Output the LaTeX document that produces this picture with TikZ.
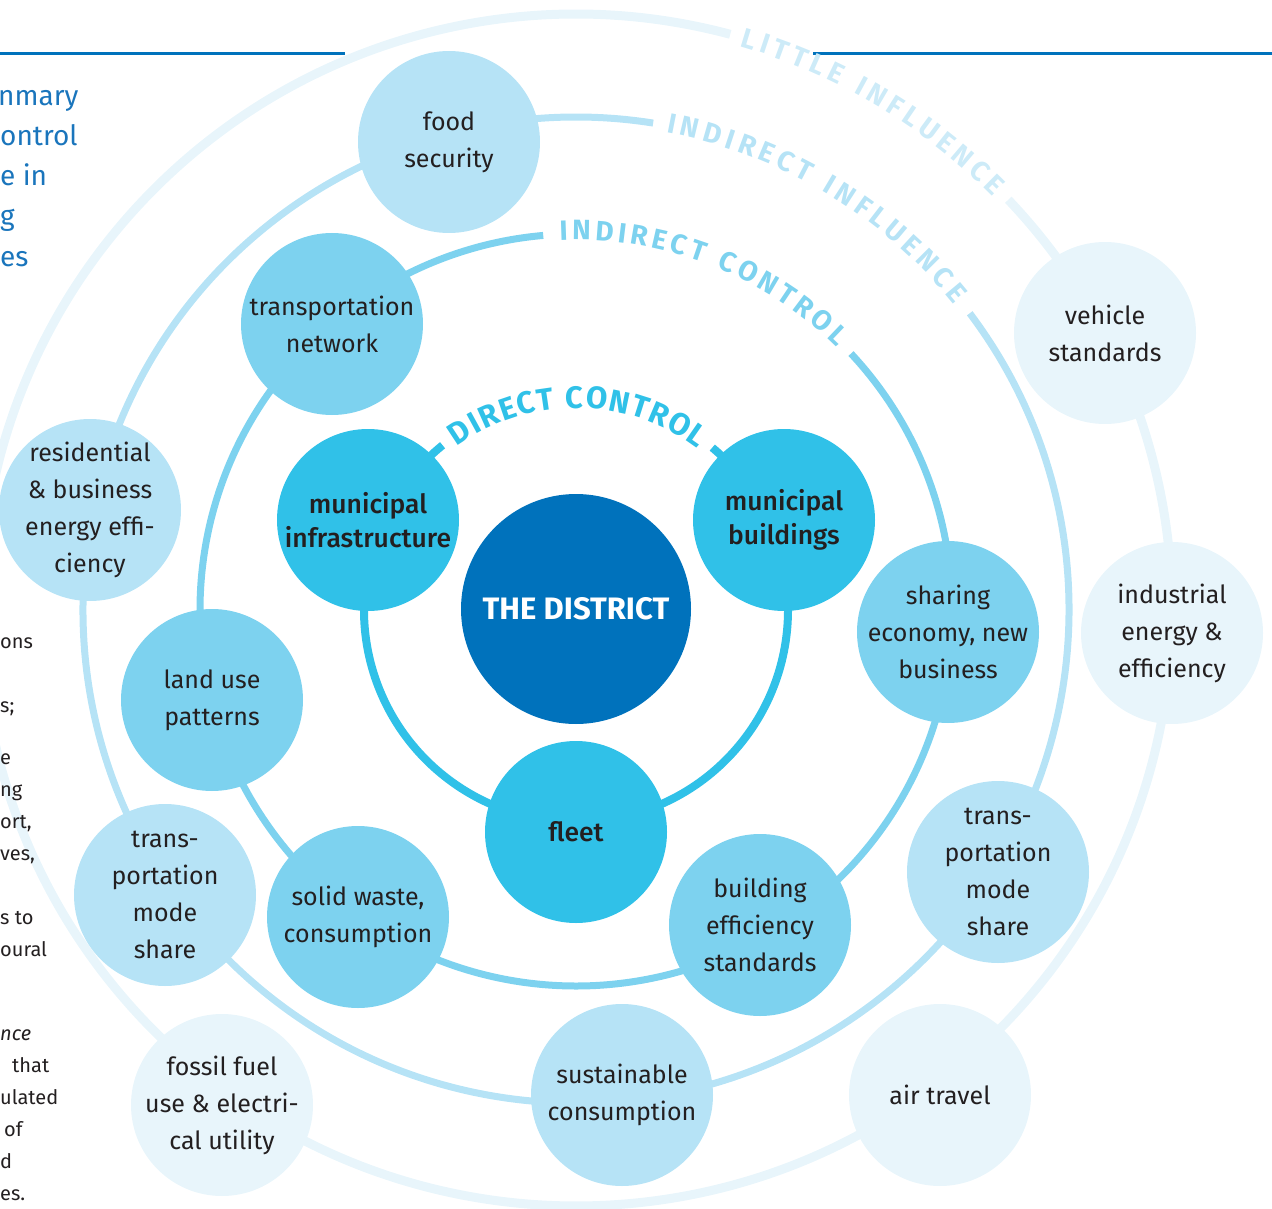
\documentclass[tikz,border=0pt]{standalone}
\usepackage{fontspec}
\IfFontExistsTF{Fira Sans Medium}
  {\setmainfont{Fira Sans}[BoldFont={Fira Sans Medium}]
   \newfontfamily\heavy{Fira Sans Bold}}
  {\setmainfont{Fira Sans}
   \newfontfamily\heavy{Fira Sans}[UprightFont={* Bold}]}
\usetikzlibrary{decorations.text}

\definecolor{district}{HTML}{0072BC}
\definecolor{dcol}{HTML}{30C1E8}
\definecolor{iccol}{HTML}{7DD2EF}
\definecolor{iicol}{HTML}{B6E3F6}
\definecolor{licol}{HTML}{E8F5FB}
\definecolor{lilabel}{HTML}{CDEBF8}
\definecolor{ink}{HTML}{231F20}
\definecolor{titleblue}{HTML}{1A75BC}

% bubble: a filled disc plus a separate label node on top of it
\newcommand\ringnode[4]{%
  \node[#1] (#2) at (#3) {};
  \node[#1 text] (#2-t) at (#2) {#4};}

\begin{document}
\begin{tikzpicture}[x=1pt,y=1pt,
  bubble/.style={circle, minimum size=182pt, inner sep=0pt},
  dc/.style={bubble, fill=dcol},
  ic/.style={bubble, fill=iccol},
  ii/.style={bubble, fill=iicol},
  li/.style={bubble, fill=licol},
  plain text/.style={inner sep=0pt, align=center, text=ink, font=\fontsize{25}{37}\selectfont},
  dc text/.style={inner sep=0pt, align=center, text=ink, font=\fontsize{26.5}{34}\selectfont\bfseries},
  ic text/.style={plain text},
  ii text/.style={plain text},
  li text/.style={plain text},
  ringlabel/.style={decorate, decoration={text along path, text align={fit to path}, raise=#1}},
  sidetitle/.style={anchor=base west, inner sep=0pt, text=titleblue, font=\fontsize{28}{40}\selectfont},
  sidebody/.style={anchor=base west, inner sep=0pt, text=ink, font=\fontsize{20}{32}\selectfont},
]
\useasboundingbox (0,0) rectangle (1272,-1209);
\clip (0,0) rectangle (1272,-1209);

\coordinate (C) at (576,-610);

% page rule
\coordinate (ruleA) at (0,-54);
\coordinate (ruleB) at (345,-54);
\coordinate (ruleC) at (813,-54);
\coordinate (ruleD) at (1272,-54);
\draw[district, line width=3] (ruleA) -- (ruleB);
\draw[district, line width=3] (ruleC) -- (ruleD);

% rings, each left open where its label sits
\draw[licol, line width=9] (C) ++(43.5:596) arc[start angle=43.5, end angle=-285, radius=596];
\draw[iicol, line width=7] (C) ++(37:493) arc[start angle=37, end angle=-279, radius=493];
\draw[iccol, line width=7] (C) ++(43:376) arc[start angle=43, end angle=-265, radius=376];
\draw[dcol, line width=8] (C) ++(50:212) arc[start angle=50, end angle=-231, radius=212];

% ring labels
\path[ringlabel=-10pt, decoration={text={|\fontsize{31}{31}\heavy\color{dcol}|DIRECT CONTROL}}]
  (C) ++(126:212) arc[start angle=126, end angle=53, radius=212];
\path[ringlabel=-9pt, decoration={text={|\fontsize{28}{28}\heavy\color{iccol}|INDIRECT CONTROL}}]
  (C) ++(92.5:379) arc[start angle=92.5, end angle=45.3, radius=379];
\path[ringlabel=-9pt, decoration={text={|\fontsize{28}{28}\heavy\color{iicol}|INDIRECT INFLUENCE}}]
  (C) ++(79.3:495) arc[start angle=79.3, end angle=39, radius=495];
\path[ringlabel=-9pt, decoration={text={|\fontsize{28}{28}\heavy\color{lilabel}|LITTLE INFLUENCE}}]
  (C) ++(73.8:596) arc[start angle=73.8, end angle=44.7, radius=596];

% centre
\node[circle, minimum size=230pt, inner sep=0pt, fill=district] (district) at (576,-609) {};
\node[inner sep=0pt, text=white, font=\fontsize{31}{34}\heavy] (district-t) at (district) {THE DISTRICT};

% direct control
\ringnode{dc}{minf}{368,-520}{municipal\\infrastructure}
\ringnode{dc}{mbld}{784,-520}{municipal\\buildings}
\ringnode{dc}{fleet}{576,-832}{fleet}

% indirect control
\ringnode{ic}{trnet}{332,-324}{transportation\\network}
\ringnode{ic}{land}{212,-700}{land use\\patterns}
\ringnode{ic}{solid}{358,-917}{solid waste,\\consumption}
\ringnode{ic}{bldg}{760,-925}{building\\efficiency\\standards}
\ringnode{ic}{share}{948,-632}{sharing\\economy, new\\business}

% indirect influence
\ringnode{ii}{food}{449,-142}{food\\security}
\ringnode{ii}{res}{90,-510}{residential\\\& business\\energy effi-\\ciency}
\ringnode{ii}{tmsL}{165,-895}{trans-\\portation\\mode\\share}
\ringnode{ii}{sust}{622,-1095}{sustainable\\consumption}
\ringnode{ii}{tmsR}{998,-872}{trans-\\portation\\mode\\share}

% little influence
\ringnode{li}{veh}{1105,-333}{vehicle\\standards}
\ringnode{li}{ind}{1172,-633}{industrial\\energy \&\\efficiency}
\ringnode{li}{air}{940,-1095}{air travel}
\ringnode{li}{fossil}{222,-1105}{fossil fuel\\use \& electri-\\cal utility}

% side column
\node[sidetitle] (t1) at (-2,-106) {nmary};
\node[sidetitle] (t2) at (0,-146) {ontrol};
\node[sidetitle] (t3) at (0,-186) {e in};
\node[sidetitle] (t4) at (0,-226) {g};
\node[sidetitle] (t5) at (0,-266) {es};

\node[sidebody] (b1) at (0,-648) {ons};
\node[sidebody] (b2) at (0,-712) {s;};
\node[sidebody] (b3) at (0,-764) {e};
\node[sidebody] (b4) at (0,-796) {ng};
\node[sidebody] (b5) at (0,-828) {ort,};
\node[sidebody] (b6) at (0,-860) {ves,};
\node[sidebody] (b7) at (0,-924) {s to};
\node[sidebody] (b8) at (0,-956) {oural};
\node[sidebody, font=\fontsize{20}{32}\selectfont\itshape] (b9) at (0,-1040) {nce};
\node[sidebody] (b10) at (12,-1072) {that};
\node[sidebody] (b11) at (0,-1104) {ulated};
\node[sidebody] (b12) at (4,-1136) {of};
\node[sidebody] (b13) at (0,-1168) {d};
\node[sidebody] (b14) at (0,-1200) {es.};
\end{tikzpicture}
\end{document}
